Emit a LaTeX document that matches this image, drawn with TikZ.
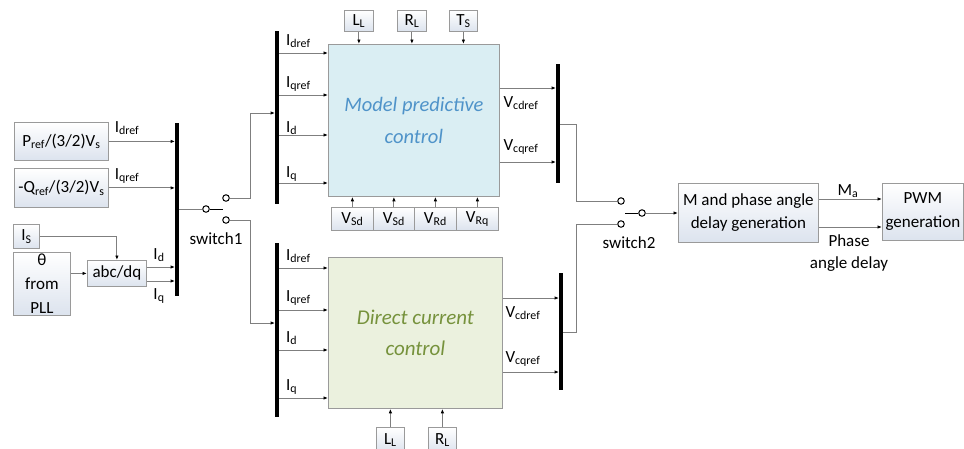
\documentclass[tikz,border=0pt]{standalone}
\usepackage{fontspec}
\setmainfont{Carlito}
\usetikzlibrary{arrows.meta}
\definecolor{wirec}{HTML}{7F7F7F}
\definecolor{boxb}{HTML}{9A9A9A}
\definecolor{boxbot}{HTML}{DCE3EE}
\definecolor{mpcfill}{HTML}{DAEEF3}
\definecolor{mpctext}{HTML}{4F93C9}
\definecolor{dccfill}{HTML}{EBF1DE}
\definecolor{dcctext}{HTML}{76923C}
\begin{document}
\begin{tikzpicture}[x=1pt,y=-1pt,
  every node/.style={font=\fontsize{17}{20}\selectfont, inner sep=0pt},
  blk/.style={draw=boxb, line width=0.8pt, top color=white, bottom color=boxbot, align=center, anchor=north west},
  bigblk/.style={draw=boxb, line width=0.8pt, align=center, anchor=north west},
  wire/.style={draw=wirec, line width=0.9pt},
  arr/.style={wire, -{Latex[length=4.5pt,width=3.5pt,color=black]}},
  bus/.style={fill=black, minimum width=3.5pt, inner sep=0pt, draw=none},
  sw/.style={circle, draw=black, line width=1pt, minimum size=6.5pt, fill=white},
  lever/.style={draw=black, line width=1pt}
]
\useasboundingbox (0,0) rectangle (964,448);
\clip (0,0) rectangle (964,448);

% ---- left inputs ----
\node[blk, minimum width=94pt, minimum height=38pt] (pref) at (14,122) {P\textsubscript{ref}/(3/2)V\textsubscript{s}};
\node[blk, minimum width=94pt, minimum height=39pt] (qref) at (14,168) {-Q\textsubscript{ref}/(3/2)V\textsubscript{s}};
\node[blk, minimum width=26pt, minimum height=24pt] (is) at (13,224) {I\textsubscript{S}};
\node[blk, minimum width=57pt, minimum height=63pt, font=\fontsize{17}{24}\selectfont] (theta) at (13,252) {θ\\from\\PLL};
\node[blk, minimum width=59pt, minimum height=26pt] (abc) at (87,260) {abc/dq};

\node[bus, minimum height=173pt] (bus1) at (177,209.5) {};

\draw[arr] (pref.east) -- (pref.east -| bus1.west);
\draw[arr] (qref.east) -- (qref.east -| bus1.west);
\draw[arr] (is.east) -| (abc.north);
\draw[arr] (theta.east |- abc.west) -- (abc.west);
\draw[arr] (abc.east |- 0,267) -- (bus1.west |- 0,267);
\draw[arr] (abc.east |- 0,281) -- (bus1.west |- 0,281);

\node (lpd) at (127,128) {I\textsubscript{dref}};
\node (lpq) at (127,176) {I\textsubscript{qref}};
\node (lad) at (159,255) {I\textsubscript{d}};
\node (laq) at (159,296) {I\textsubscript{q}};

% ---- switch 1 ----
\node[sw] (s1p) at (206,209) {};
\node[sw] (s1a) at (226,198) {};
\node[sw] (s1b) at (226,220) {};
\node (s1l) at (216,239) {switch1};
\draw[wire] (bus1.east |- s1p) -- (s1p.west);
\draw[lever] (s1p.east) -- ++(13,0);

\node[bus, minimum height=173pt] (bus2) at (277,117.5) {};
\node[bus, minimum height=174pt] (bus3) at (277,330) {};
\draw[arr] (s1a.east) -- ++(21,0) |- (bus2.west |- 0,113);
\draw[arr] (s1b.east) -- ++(21,0) |- (bus3.west |- 0,323);

% ---- MPC ----
\node[bigblk, fill=mpcfill, minimum width=171pt, minimum height=152pt, text=mpctext,
      font=\fontsize{20.5}{32}\selectfont\itshape] (mpc) at (328,44) {Model predictive\\control};
\foreach \y in {53,95,135,183} \draw[arr] (bus2.east |- 0,\y) -- (mpc.west |- 0,\y);
\node[anchor=west] (m1) at (286,41) {I\textsubscript{dref}};
\node[anchor=west] (m2) at (286,84) {I\textsubscript{qref}};
\node[anchor=west] (m3) at (286,128) {I\textsubscript{d}};
\node[anchor=west] (m4) at (286,174) {I\textsubscript{q}};

\node[blk, minimum width=29pt, minimum height=21pt] (ll1) at (344,10) {L\textsubscript{L}};
\node[blk, minimum width=29pt, minimum height=21pt] (rl1) at (397,10) {R\textsubscript{L}};
\node[blk, minimum width=28pt, minimum height=21pt] (ts) at (449,10) {T\textsubscript{S}};
\foreach \n in {ll1,rl1,ts} \draw[arr] (\n.south) -- (\n.south |- mpc.north);

\node[blk, minimum width=42pt, minimum height=23pt] (v1) at (331,207) {V\textsubscript{Sd}};
\node[blk, minimum width=41pt, minimum height=23pt] (v2) at (373,207) {V\textsubscript{Sd}};
\node[blk, minimum width=42pt, minimum height=23pt] (v3) at (414,207) {V\textsubscript{Rd}};
\node[blk, minimum width=42pt, minimum height=23pt] (v4) at (456,207) {V\textsubscript{Rq}};
\foreach \n in {v1,v2,v3,v4} \draw[arr] (\n.north) -- (\n.north |- mpc.south);

\node[bus, minimum height=119pt] (bus4) at (558,123.5) {};
\draw[arr] (mpc.east |- 0,88) -- (bus4.west |- 0,88);
\draw[arr] (mpc.east |- 0,162) -- (bus4.west |- 0,162);
\node (mo1) at (521,103) {V\textsubscript{cdref}};
\node (mo2) at (521,147) {V\textsubscript{cqref}};

% ---- DCC ----
\node[bigblk, fill=dccfill, minimum width=174pt, minimum height=151pt, text=dcctext,
      font=\fontsize{21}{31}\selectfont\itshape] (dcc) at (328,257) {Direct current\\control};
\foreach \y in {268,310,350,398} \draw[arr] (bus3.east |- 0,\y) -- (dcc.west |- 0,\y);
\node[anchor=west] (d1) at (286,256) {I\textsubscript{dref}};
\node[anchor=west] (d2) at (286,298) {I\textsubscript{qref}};
\node[anchor=west] (d3) at (286,338) {I\textsubscript{d}};
\node[anchor=west] (d4) at (286,387) {I\textsubscript{q}};

\node[blk, minimum width=28pt, minimum height=25pt] (ll2) at (376,427) {L\textsubscript{L}};
\node[blk, minimum width=28pt, minimum height=25pt] (rl2) at (428,427) {R\textsubscript{L}};
\foreach \n in {ll2,rl2} \draw[arr] (\n.north) -- (\n.north |- dcc.south);

\node[bus, minimum height=117pt] (bus5) at (561,331.5) {};
\draw[arr] (dcc.east |- 0,298) -- (bus5.west |- 0,298);
\draw[arr] (dcc.east |- 0,372) -- (bus5.west |- 0,372);
\node (do1) at (523,313) {V\textsubscript{cdref}};
\node (do2) at (523,359) {V\textsubscript{cqref}};

% ---- switch 2 ----
\node[sw] (s2a) at (621,201) {};
\node[sw] (s2b) at (621,224) {};
\node[sw] (s2p) at (642,213) {};
\node (s2l) at (629,243) {switch2};
\draw[wire] (bus4.east |- 0,124) -- (576,124) |- (s2a.west);
\draw[wire] (bus5.east |- 0,332) -- (576,332) |- (s2b.west);
\draw[lever] (625,213) -- (s2p.west);

% ---- right blocks ----
\node[blk, minimum width=140pt, minimum height=59pt, font=\fontsize{17}{23}\selectfont] (mgen) at (678,183) {M and phase angle\\delay generation};
\node[blk, minimum width=81pt, minimum height=57pt, font=\fontsize{17}{24}\selectfont] (pwm) at (882,183) {PWM\\generation};
\draw[arr] (s2p.east) -- (mgen.west |- s2p);
\draw[arr] (mgen.east |- 0,199) -- (pwm.west |- 0,199);
\draw[arr] (mgen.east |- 0,227) -- (pwm.west |- 0,227);
\node (ma) at (848,191) {M\textsubscript{a}};
\node[align=center, font=\fontsize{17}{22}\selectfont] (pad) at (849,253) {Phase\\angle delay};
\end{tikzpicture}
\end{document}
